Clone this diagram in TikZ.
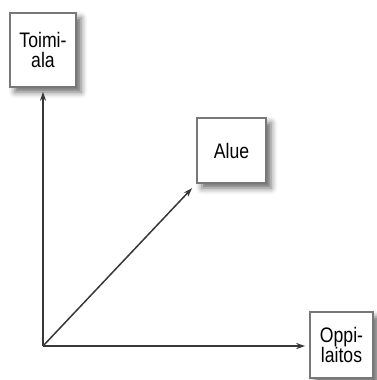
\documentclass[tikz,border=0pt]{standalone}
\usepackage{fontspec}
\setmainfont{Liberation Sans}[FakeStretch=0.84]
\usetikzlibrary{shadows.blur,arrows.meta}
\definecolor{boxline}{RGB}{120,120,120}
\definecolor{arrline}{RGB}{55,55,55}
\tikzset{
  cbox/.style={draw=boxline, line width=1.6pt, fill=white, align=center,
    inner sep=0pt, font=\fontsize{21}{19.5}\selectfont,
    blur shadow={shadow xshift=5pt, shadow yshift=-5pt, shadow blur radius=6pt, shadow opacity=60}},
  arr/.style={draw=arrline, line width=1.5pt, -{Stealth[length=9pt,width=6pt]}, shorten >=4pt}
}
\begin{document}
\begin{tikzpicture}[x=1pt,y=-1pt]
\useasboundingbox (0,0) rectangle (376,380);
\coordinate (o) at (43,346);
\node[cbox, minimum width=66pt, minimum height=74pt] (toimi) at (43,50) {Toimi-\\ala};
\node[cbox, minimum width=69pt, minimum height=65pt] (alue) at (231.5,150.5) {Alue};
\node[cbox, minimum width=63pt, minimum height=66pt] (oppi) at (341.5,345) {Oppi-\\laitos};
\draw[arr] (o) -- (toimi);
\draw[arr, shorten >=6pt] (o) -- (alue.south west);
\draw[arr] (o) -- (o -| oppi.west);
\end{tikzpicture}
\end{document}
